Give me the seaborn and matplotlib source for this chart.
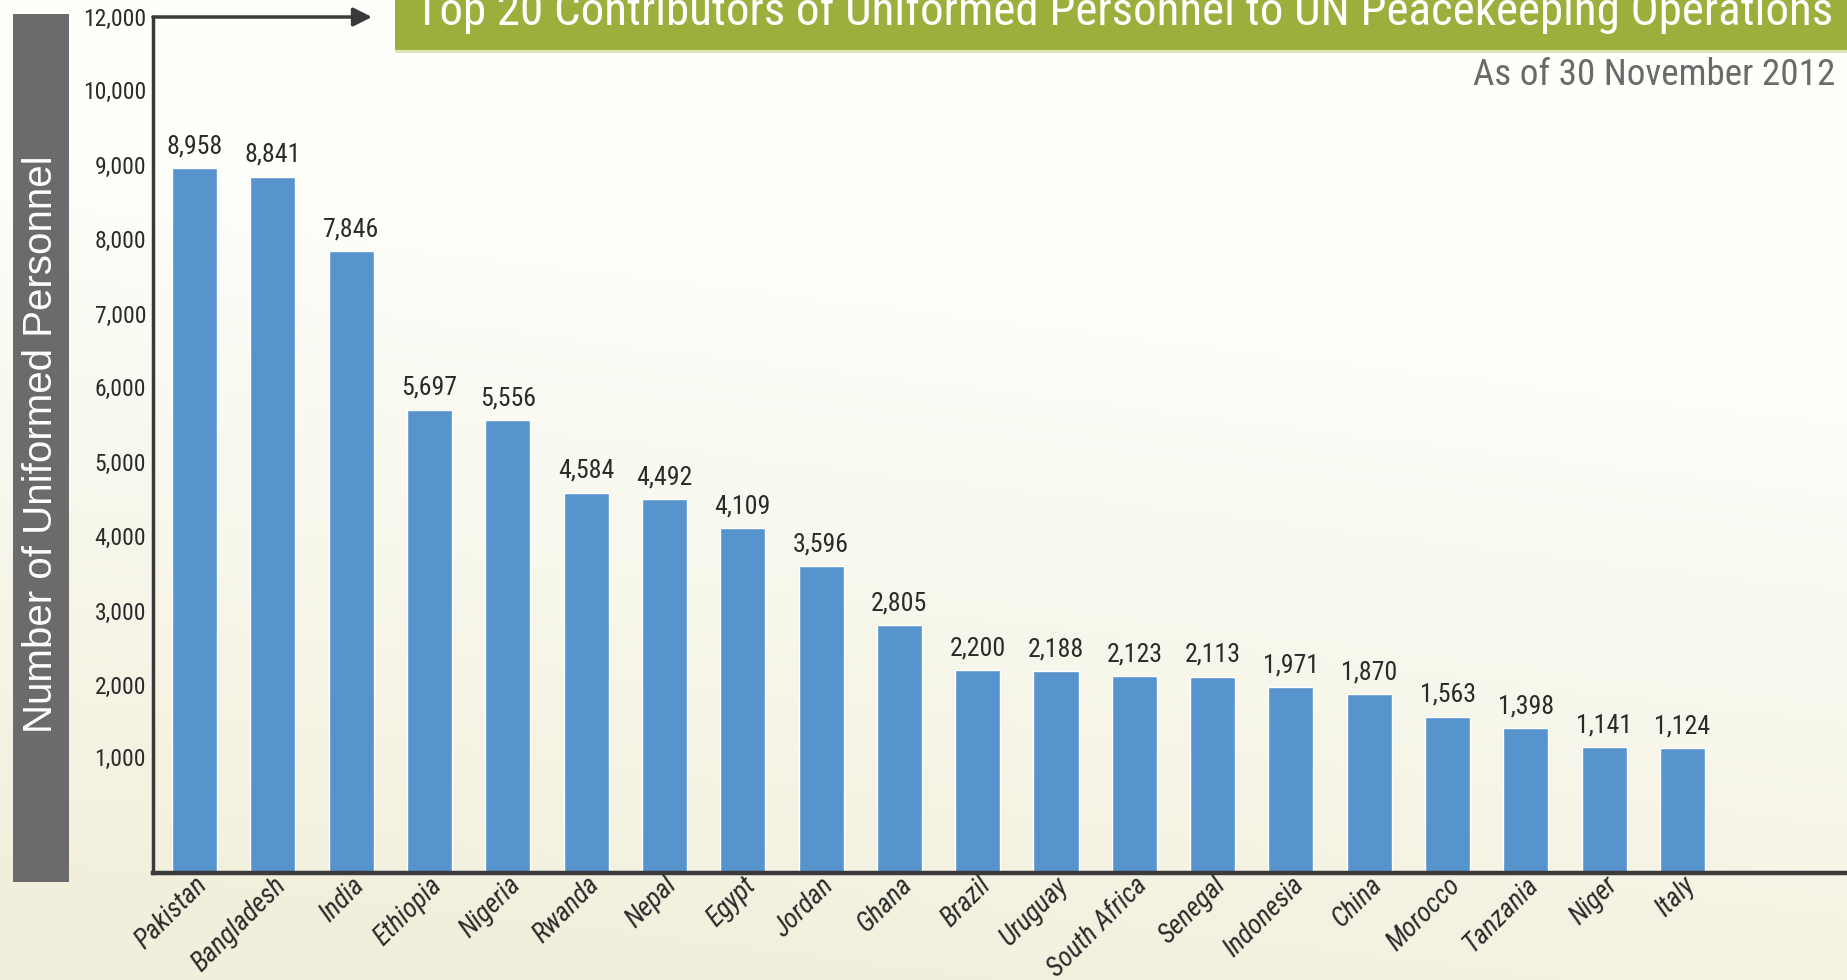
import numpy as np
import pandas as pd
import matplotlib
matplotlib.use("Agg")
import matplotlib.pyplot as plt
import matplotlib.transforms as mtransforms
from matplotlib.patches import Rectangle, FancyArrowPatch
from matplotlib.ticker import FuncFormatter
from matplotlib import font_manager
import seaborn as sns

# data
countries = ["Pakistan", "Bangladesh", "India", "Ethiopia", "Nigeria", "Rwanda", "Nepal",
             "Egypt", "Jordan", "Ghana", "Brazil", "Uruguay", "South Africa", "Senegal",
             "Indonesia", "China", "Morocco", "Tanzania", "Niger", "Italy"]
personnel = [8958, 8841, 7846, 5697, 5556, 4584, 4492, 4109, 3596, 2805,
             2200, 2188, 2123, 2113, 1971, 1870, 1563, 1398, 1141, 1124]
ytick_values = [1000, 2000, 3000, 4000, 5000, 6000, 7000, 8000, 9000, 10000, 12000]

title = "Top 20 Contributors of Uniformed Personnel to UN Peacekeeping Operations"
subtitle = "As of 30 November 2012"
ylabel = "Number of Uniformed Personnel"

# the original y axis is not linear: tick value -> height above the baseline
scale_values = [-1e6, 0, 1000, 2000, 3000, 4000, 5000, 6000, 7000, 8000, 9000, 10000, 12000, 1e6]
scale_heights = [-1e6 * 0.098, 0, 98, 159, 222, 285, 348, 411, 473, 536, 599, 662, 724,
                 724 + (1e6 - 12000) * 0.031]


def fwd(v):
    return np.interp(v, scale_values, scale_heights)


def inv(h):
    return np.interp(h, scale_heights, scale_values)


sns.set_theme(style="white")

# look for a condensed face, the original uses one
entries = font_manager.fontManager.ttflist
names = {f.name for f in entries}
narrow, stretch = None, "normal"
for n in ["Liberation Sans Narrow", "Roboto Condensed", "Open Sans Condensed",
          "Noto Sans Condensed", "DejaVu Sans Condensed"]:
    if n in names:
        narrow = n
        break
if narrow is None:
    for f in entries:
        if f.stretch in ("condensed", "semi-condensed", "extra-condensed") and f.style == "normal":
            narrow, stretch = f.name, f.stretch
            break
if narrow is None:
    narrow = "Liberation Sans"
plt.rcParams["font.family"] = [narrow, "DejaVu Sans"]
plt.rcParams["font.stretch"] = stretch

W, H = 1847, 980
fig = plt.figure(figsize=(W / 100, H / 100), dpi=100)
renderer = fig.canvas.get_renderer()


def fit_size(text, target_px, **kw):
    t = fig.text(0, 0, text, fontsize=20, **kw)
    w = t.get_window_extent(renderer).width
    t.remove()
    return 20 * target_px / w


# cream background gradient
bg = fig.add_axes([0, 0, 1, 1], zorder=-10)
yy, xx = np.mgrid[0:1:300j, 0:1:300j]
t = np.clip(yy * 1.3 + xx * 0.3 - 0.1, 0, 1)[..., None]
low = np.array([241, 239, 219]) / 255
high = np.array([254, 254, 251]) / 255
bg.imshow(low + (high - low) * t, origin="lower", aspect="auto", extent=[0, 1, 0, 1])
bg.axis("off")

ax = fig.add_axes([153 / W, 107 / H, 1 - 153 / W, (873 - 17) / H])
ax.set_facecolor("none")

df = pd.DataFrame({"country": countries, "personnel": personnel})
sns.barplot(data=df, x="country", y="personnel", color="#5793cd", saturation=1,
            width=0.575, ax=ax)

ax.set_yscale("function", functions=(fwd, inv))
ax.set_ylim(0, 12000)
ax.set_xlim(-0.53, 21.1)
ax.set_yticks(ytick_values)
ax.yaxis.set_major_formatter(FuncFormatter(lambda v, p: f"{int(v):,}"))
ax.set_xlabel("")
ax.set_ylabel("")

num_size = fit_size("8,958", 56)
ytick_size = fit_size("12,000", 63)
xlab_size = fit_size("Bangladesh", 122, fontstyle="italic")

ax.tick_params(axis="y", length=0, pad=5, labelsize=ytick_size, labelcolor="#2a2a2a")
ax.tick_params(axis="x", length=0, pad=6, labelsize=xlab_size, labelcolor="#2a2a2a")
ax.set_xticks(range(len(countries)))
ax.set_xticklabels(countries, rotation=45, ha="right", va="center",
                   rotation_mode="anchor", fontstyle="italic")
shift = mtransforms.ScaledTranslation(9 / 100, 0, fig.dpi_scale_trans)
for lbl in ax.get_xticklabels():
    lbl.set_transform(lbl.get_transform() + shift)

ax.bar_label(ax.containers[0], labels=[f"{v:,}" for v in personnel], padding=7,
             fontsize=num_size, color="#2a2a2a")

for side in ["top", "right"]:
    ax.spines[side].set_visible(False)
ax.spines["left"].set_color("#3a3a3a")
ax.spines["left"].set_linewidth(2.5)
ax.spines["bottom"].set_color("#3a3a3a")
ax.spines["bottom"].set_linewidth(3.2)

# arrow at the top of the y axis
fig.add_artist(FancyArrowPatch(
    (153 / W, 1 - 17 / H), (372 / W, 1 - 17 / H), transform=fig.transFigure,
    arrowstyle="-|>", mutation_scale=28, lw=2.5, color="#3a3a3a",
    shrinkA=0, shrinkB=0))

# grey box with the y label
fig.add_artist(Rectangle((13 / W, 1 - 882 / H), 56 / W, (882 - 14) / H,
                         transform=fig.transFigure, color="#6b6b6d", lw=0))
fig.text(41 / W, 1 - 444 / H, ylabel, rotation=90, ha="center", va="center",
         color="white", fontsize=29, family="Liberation Sans", fontstretch="normal")

# green banner with the title
fig.add_artist(Rectangle((395 / W, 1 - 50 / H), 1 - 395 / W, 50 / H,
                         transform=fig.transFigure, color="#9caf3c", lw=0))
fig.add_artist(Rectangle((395 / W, 1 - 53 / H), 1 - 395 / W, 3 / H,
                         transform=fig.transFigure, color="#dfe5bb", lw=0))
fig.text(415 / W, 1 - 25 / H, title, ha="left", va="baseline", color="white",
         fontsize=fit_size(title, 1417))
fig.text(1835 / W, 1 - 75 / H, subtitle, ha="right", va="center", color="#6a6a6a",
         fontsize=fit_size(subtitle, 363))

fig.savefig("out.png", dpi=100)
